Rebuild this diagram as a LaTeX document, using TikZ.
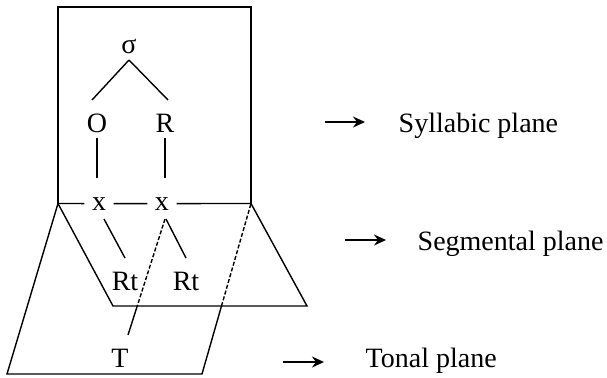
\documentclass[tikz,border=0pt]{standalone}
\usepackage{fontspec}
\setmainfont{Liberation Serif}
\usetikzlibrary{calc,arrows.meta}

\tikzset{
  lab/.style={anchor=base west, inner sep=0pt},
  sym/.style={anchor=base, inner sep=0pt},
  slot/.style={anchor=base, inner sep=3.5pt},
  planearrow/.style={-{Stealth[length=6pt,width=5.5pt,inset=2pt]}, line width=0.75pt},
  hidden/.style={dash pattern=on 2pt off 1pt}
}

\begin{document}
\begin{tikzpicture}[x=0.5pt,y=-0.5pt,line width=0.7pt,font=\fontsize{14}{17}\selectfont]
    \useasboundingbox (0,0) rectangle (607,377);

    % Corners where the planes meet
    \coordinate (bl) at (58,203.5);
    \coordinate (br) at (251,203.5);

    % Syllabic plane
    \draw (bl) -- (58,7) -- (251,7) -- (br);
    % Segmental plane
    \draw (bl) -- (113,306) -- (307,306) -- (br);
    % Tonal plane, dashed behind the segmental one
    \draw (bl) -- (7,374) -- (202,374) -- (221.5,306);
    \draw[hidden] (221.5,306) -- (br);

    % Tree
    \node[sym] (sig) at (129,53) {σ};
    \node[sym] (O) at (97,132) {O};
    \node[sym] (R) at (165,132) {R};
    \node[slot] (x1) at (99,210) {x};
    \node[slot] (x2) at (162,210) {x};
    \node[sym] (rt1) at (125,290) {Rt};
    \node[sym] (rt2) at (186,290) {Rt};
    \node[sym] (T) at (120,367) {T};

    \draw ($(sig.base)+(0,7)$) -- ($(O.base)+(-5,-32)$);
    \draw ($(sig.base)+(0,7)$) -- ($(R.base)+(3,-32)$);
    \draw ($(O.base)+(0,6)$) -- ($(x1.base)+(-2,-32)$);
    \draw ($(R.base)+(0,6)$) -- ($(x2.base)+(3,-32)$);
    \draw (bl) -- (x1) -- (x2) -- (br);
    \draw ($(x1.base)+(5,9)$) -- ($(rt1.base)+(0,-32)$);
    \draw ($(x2.base)+(4,9)$) -- ($(rt2.base)+(0,-32)$);

    % Association line to T
    \coordinate (ta) at ($(x2.base)+(3,9)$);
    \coordinate (tb) at ($(T.base)+(8,-32)$);
    \draw[hidden] (ta) -- ($(ta)!0.75!(tb)$);
    \draw ($(ta)!0.75!(tb)$) -- (tb);

    % Plane labels
    \foreach \nm/\xa/\xb/\xt/\ya/\yb/\txt in {syl/325/365/398/122/132/Syllabic plane, seg/345/386/417/240/250/Segmental plane, ton/283/324/365/362/367/Tonal plane} {
        \node[lab] (\nm) at (\xt,\yb) {\txt};
        \coordinate (a\nm) at (\xa,\ya);
        \pgfmathsetmacro{\gap}{(\xt-\xb)/2}
        \draw[planearrow, shorten >=\gap pt] (a\nm) -- (a\nm -| \nm.west);
    }
\end{tikzpicture}
\end{document}
